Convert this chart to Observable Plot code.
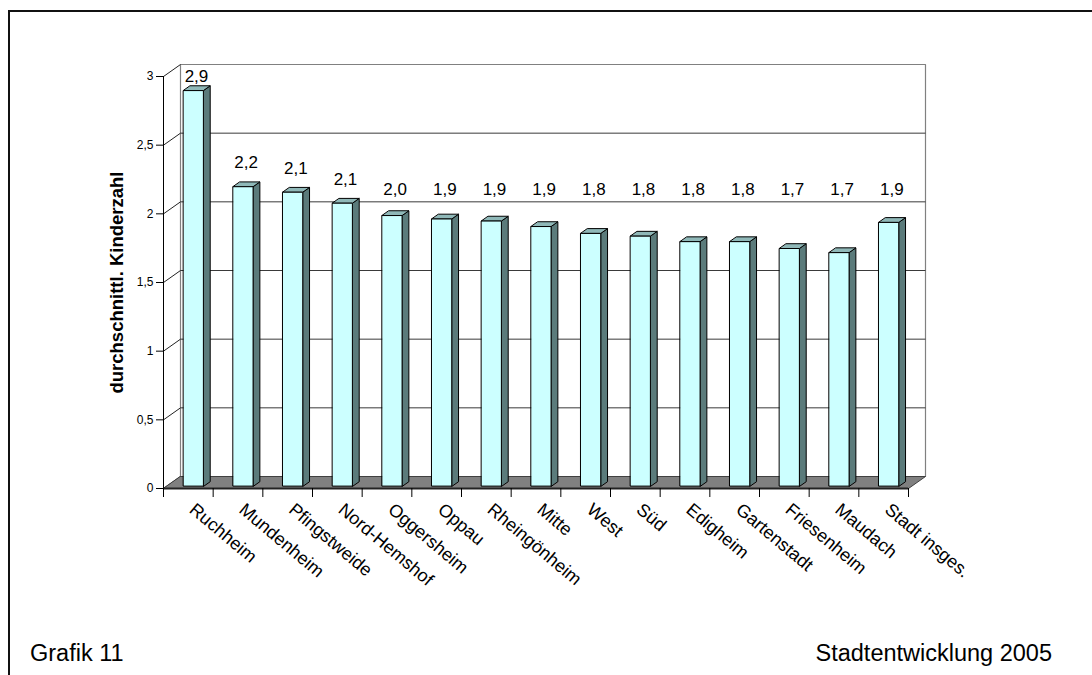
<!DOCTYPE html>
<html>
<head>
<meta charset="utf-8">
<script src="https://cdn.jsdelivr.net/npm/d3@7"></script>
<script src="https://cdn.jsdelivr.net/npm/@observablehq/plot@0.6"></script>
<style>
  html, body { margin: 0; padding: 0; background: #fff; overflow: hidden; }
  #page { position: relative; width: 1092px; height: 675px; overflow: hidden; font-family: "Liberation Sans", Arial, sans-serif; }
  #frame { position: absolute; left: 8px; top: 10px; width: 1200px; height: 800px; border-left: 2px solid #111; border-top: 2px solid #111; }
  #chart { position: absolute; left: 0; top: 0; }
  .foot { position: absolute; top: 640px; font-size: 23.5px; color: #000; white-space: nowrap; }
</style>
</head>
<body>
<div id="page">
  <div id="frame"></div>
  <div id="chart"></div>
  <div class="foot" style="left:30px">Grafik 11</div>
  <div class="foot" style="right:40px">Stadtentwicklung 2005</div>
</div>
<script>
// ---- data ----
const categories = ["Ruchheim", "Mundenheim", "Pfingstweide", "Nord-Hemshof", "Oggersheim", "Oppau", "Rheingönheim", "Mitte", "West", "Süd", "Edigheim", "Gartenstadt", "Friesenheim", "Maudach", "Stadt insges."];
const values = [2.88, 2.18, 2.14, 2.06, 1.97, 1.945, 1.93, 1.89, 1.84, 1.82, 1.78, 1.78, 1.73, 1.70, 1.92];
const valueLabels = ["2,9", "2,2", "2,1", "2,1", "2,0", "1,9", "1,9", "1,9", "1,8", "1,8", "1,8", "1,8", "1,7", "1,7", "1,9"];
const yTicks = [0, 0.5, 1, 1.5, 2, 2.5, 3];
const yTickLabels = ["0", "0,5", "1", "1,5", "2", "2,5", "3"];
const yTitle = "durchschnittl. Kinderzahl";

// ---- layout / pseudo-3D projection ----
const W = 1092, H = 620;
const mL = 163, mR = 184, mT = 76, mB = 132;
const n = categories.length;
const xPerPx = n / (W - mL - mR);
const yPerPx = 3 / (H - mT - mB);
const DX = 17 * xPerPx;   // depth vector in data units
const DY = 12 * yPerPx;
const P = (xu, v, z) => ({x: xu + z * DX, y: v + z * DY});
const barL = 0.335, barR = 0.735, zF = 0.2, zB = 0.6;

const polys = [];
function poly(kind, id, pts) { pts.forEach(p => polys.push({kind, id, x: p.x, y: p.y})); }
values.forEach((v, i) => {
  const L = i + barL, R = i + barR;
  poly("front", i, [P(L, 0, zF), P(R, 0, zF), P(R, v, zF), P(L, v, zF)]);
  poly("side", i, [P(R, 0, zF), P(R, v, zF), P(R, v, zB), P(R, 0, zB)]);
  poly("top", i, [P(L, v, zF), P(R, v, zF), P(R, v, zB), P(L, v, zB)]);
});
poly("wall", "w", [P(0, 0, 1), P(n, 0, 1), P(n, 3, 1), P(0, 3, 1)]);
poly("floor", "f", [P(0, 0, 0), P(n, 0, 0), P(n, 0, 1), P(0, 0, 1)]);

const gridBack = yTicks.slice(1, -1).map(v => ({a: P(0, v, 1), b: P(n, v, 1)}));
const gridSide = yTicks.map(v => ({a: P(0, v, 0), b: P(0, v, 1)}));

const labelData = values.map((v, i) => {
  const c = P(i + (barL + barR) / 2, 0, zF);
  return {x: c.x, y: Math.min(Math.max(v + 0.19, 2.176), 3.0), t: valueLabels[i]};
});

const sel = k => polys.filter(d => d.kind === k);
const lineOpts = (fill, stroke, sw) => ({x: "x", y: "y", z: "id", fill, stroke, strokeWidth: sw, curve: "linear-closed"});

const chart = Plot.plot({
  width: W, height: H,
  marginLeft: mL, marginRight: mR, marginTop: mT, marginBottom: mB,
  x: {domain: [0, n], axis: null},
  y: {domain: [0, 3], axis: null},
  style: {fontFamily: "'Liberation Sans', Arial, sans-serif", background: "transparent", overflow: "visible", color: "#000"},
  marks: [
    Plot.line(sel("wall"), lineOpts("#fff", "#808080", 1.2)),
    Plot.link(gridBack, {x1: d => d.a.x, y1: d => d.a.y, x2: d => d.b.x, y2: d => d.b.y, stroke: "#3a3a3a", strokeWidth: 1}),
    Plot.link(gridSide, {x1: d => d.a.x, y1: d => d.a.y, x2: d => d.b.x, y2: d => d.b.y, stroke: "#222", strokeWidth: 1}),
    Plot.line(sel("floor"), lineOpts("#808080", "#404040", 1)),
    Plot.ruleY([0], {x1: 0, x2: n, stroke: "#222", strokeWidth: 2.2}),
    Plot.ruleX([0], {y1: 0, y2: 3, stroke: "#000", strokeWidth: 1}),
    Plot.ruleY(yTicks, {x1: -7 * xPerPx, x2: 0, stroke: "#000", strokeWidth: 1}),
    Plot.ruleX(d3.range(n + 1), {y1: 0, y2: -9 * yPerPx, stroke: "#000", strokeWidth: 1}),
    Plot.line(sel("side"), lineOpts("#5b7b7b", "#000", 1)),
    Plot.line(sel("top"), lineOpts("#8fb8b8", "#000", 1)),
    Plot.line(sel("front"), lineOpts("#ccffff", "#000", 1)),
    Plot.text(labelData, {x: "x", y: "y", text: "t", dx: 3, fontSize: 17, fill: "#000"}),
    Plot.text(yTicks, {x: 0, y: d => d, text: (d, i) => yTickLabels[i], dx: -10, textAnchor: "end", fontSize: 12, fill: "#000"}),
    Plot.text(categories, {x: (d, i) => i + 0.5, y: 0, text: d => d, dx: 0, dy: 23, rotate: 40, textAnchor: "start", lineAnchor: "bottom", fontSize: 18, fill: "#000"}),
    Plot.text([yTitle], {x: -46 * xPerPx, y: 1.5, text: d => d, rotate: -90, fontWeight: "bold", fontSize: 18.5, fill: "#000"})
  ]
});
document.getElementById("chart").appendChild(chart);
</script>
</body>
</html>
